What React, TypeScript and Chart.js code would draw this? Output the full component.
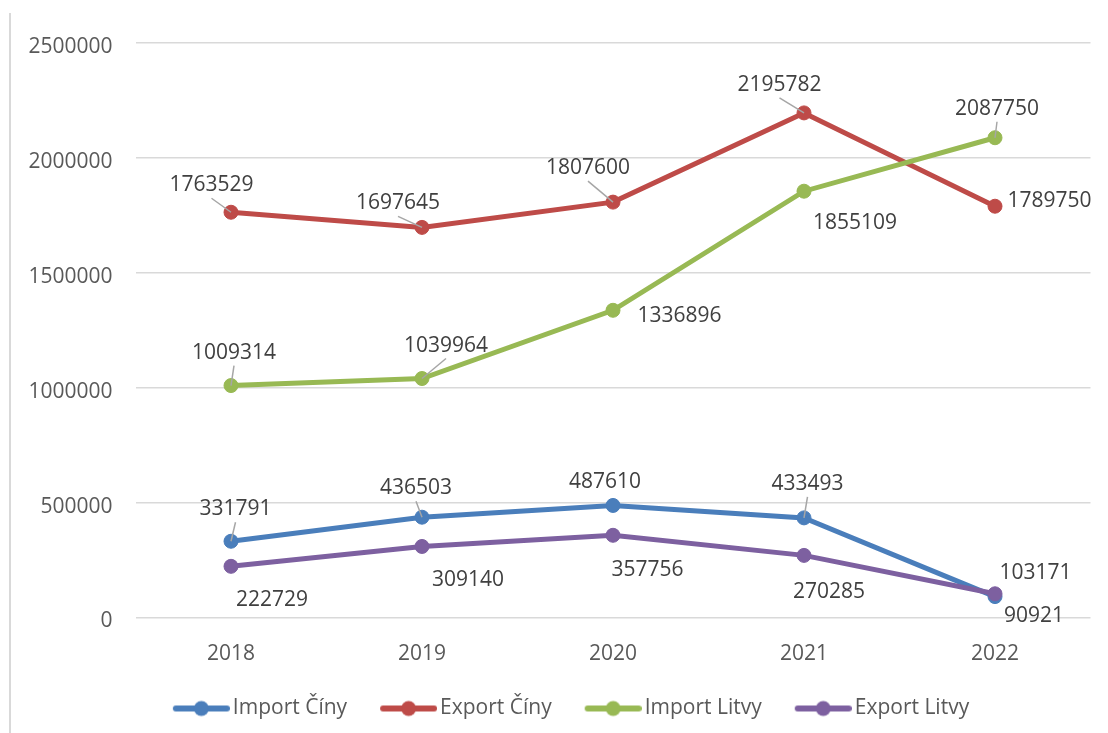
import React, { useEffect, useRef } from "react";
import { Chart, registerables } from "chart.js";

Chart.register(...registerables);

const categories = ["2018", "2019", "2020", "2021", "2022"];
const importCiny = [331791, 436503, 487610, 433493, 90921];
const exportCiny = [1763529, 1697645, 1807600, 2195782, 1789750];
const importLitvy = [1009314, 1039964, 1336896, 1855109, 2087750];
const exportLitvy = [222729, 309140, 357756, 270285, 103171];
const yTicks = [0, 500000, 1000000, 1500000, 2000000, 2500000];

const seriesNames = ["Import Číny", "Export Číny", "Import Litvy", "Export Litvy"];
const seriesColors = ["#4A7EBB", "#BE4B48", "#98B954", "#7D60A0"];

// label placement (pixel offsets of label centre from the point), and leader-line flags
const labelOffsets = [
  [[4.5, -32], [-6, -29], [-8, -23], [3.5, -34], [39, 19]],
  [[-19.5, -27], [-24, -24], [-25, -34], [-24.5, -28], [54.5, -5]],
  [[3, -33], [24, -33], [66.5, 6], [51, 32], [2, -29]],
  [[41, 34], [46, 34], [34.5, 35], [25, 37], [40.5, -21]],
];
const leaderFlags = [
  [true, true, false, true, false],
  [true, true, true, true, false],
  [true, true, false, false, true],
  [false, false, false, false, false],
];

const FONT = "'Open Sans', 'Noto Sans', sans-serif";

function makeLegendSymbol(color: string) {
  const c = document.createElement("canvas");
  c.width = 83;
  c.height = 18;
  const ctx = c.getContext("2d")!;
  ctx.strokeStyle = color;
  ctx.lineWidth = 6;
  ctx.lineCap = "round";
  ctx.beginPath();
  ctx.moveTo(29, 9);
  ctx.lineTo(80, 9);
  ctx.stroke();
  ctx.fillStyle = color;
  ctx.beginPath();
  ctx.arc(54.5, 9, 7.5, 0, Math.PI * 2);
  ctx.fill();
  return c;
}

const dataLabelPlugin = {
  id: "dataLabels",
  afterLayout(chart: any) {
    // shift the legend row slightly to the right, as in the reference
    const lg = chart.legend;
    if (lg) {
      lg.left += 16.5;
      lg.right += 16.5;
    }
  },
  afterDatasetsDraw(chart: any) {
    const ctx = chart.ctx;
    ctx.save();
    chart.data.datasets.forEach((ds: any, di: number) => {
      const meta = chart.getDatasetMeta(di);
      meta.data.forEach((pt: any, i: number) => {
        const [dx, dy] = labelOffsets[di][i];
        const cx = pt.x + dx;
        const cy = pt.y + dy;
        if (leaderFlags[di][i]) {
          ctx.strokeStyle = "#A6A6A6";
          ctx.lineWidth = 1.5;
          ctx.beginPath();
          ctx.moveTo(cx, cy + 13);
          ctx.lineTo(pt.x, pt.y);
          ctx.stroke();
        }
        ctx.fillStyle = "#404040";
        ctx.font = `21px ${FONT}`;
        ctx.textAlign = "center";
        ctx.textBaseline = "middle";
        ctx.fillText(String(ds.data[i]), cx, cy);
      });
    });
    ctx.restore();
  },
};

export default function App() {
  const ref = useRef<HTMLCanvasElement | null>(null);
  useEffect(() => {
    if (!ref.current) return;
    const series = [importCiny, exportCiny, importLitvy, exportLitvy];
    const symbols = seriesColors.map((c) => makeLegendSymbol(c));
    const chart = new Chart(ref.current, {
      type: "line",
      data: {
        labels: categories,
        datasets: series.map((d, i) => ({
          label: seriesNames[i],
          data: d,
          borderColor: seriesColors[i],
          backgroundColor: seriesColors[i],
          borderWidth: 5,
          pointRadius: 7,
          pointBorderWidth: 1,
          pointBackgroundColor: seriesColors[i],
          pointBorderColor: seriesColors[i],
          tension: 0,
          order: 4 - i,
        })),
      },
      options: {
        responsive: false,
        animation: false,
        layout: { padding: { left: 0, right: 17.5, top: 43, bottom: 4 } },
        plugins: {
          tooltip: { enabled: false },
          legend: {
            position: "bottom",
            labels: {
              usePointStyle: true,
              pointStyleWidth: 68,
              padding: 14.5,
              color: "#595959",
              font: { family: FONT, size: 21 },
              generateLabels: () =>
                seriesNames.map((n, i) => ({
                  text: n,
                  pointStyle: symbols[i],
                  fillStyle: seriesColors[i],
                  strokeStyle: seriesColors[i],
                  lineWidth: 0,
                  hidden: false,
                  datasetIndex: i,
                  fontColor: "#595959",
                })),
            },
          },
        },
        scales: {
          x: {
            offset: true,
            grid: { display: false, drawTicks: false },
            border: { display: false },
            ticks: { color: "#595959", font: { family: FONT, size: 21 }, padding: 24, maxRotation: 0 },
            afterFit: (s: any) => {
              s.height = 66;
            },
          },
          y: {
            min: 0,
            max: 2500000,
            afterBuildTicks: (s: any) => {
              s.ticks = yTicks.map((v) => ({ value: v }));
            },
            grid: { color: "#D9D9D9", lineWidth: 1.5, drawTicks: false },
            border: { display: false },
            ticks: {
              color: "#595959",
              font: { family: FONT, size: 21 },
              padding: 23,
              labelOffset: 4,
              callback: (v: any) => String(v),
            },
            afterFit: (s: any) => {
              s.width = 135.5;
            },
          },
        },
      },
      plugins: [dataLabelPlugin],
    } as any);
    return () => chart.destroy();
  }, []);
  return (
    <div style={{ position: "absolute", left: 0, top: 0, width: 1108, height: 733, background: "#fff" }}>
      <div
        style={{
          position: "absolute",
          left: 9,
          top: 13,
          width: 0,
          height: 720,
          borderLeft: "2px solid #D9D9D9",
        }}
      />
      <canvas ref={ref} width={1108} height={733} style={{ position: "absolute", left: 0, top: 0 }} />
    </div>
  );
}
